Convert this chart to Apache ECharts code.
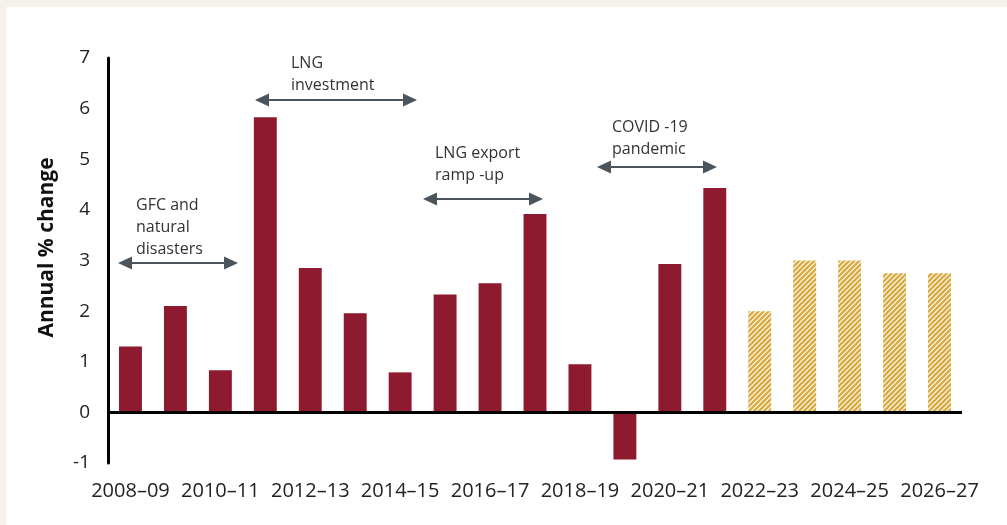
<!DOCTYPE html>
<html>
<head>
<meta charset="utf-8">
<script src="https://cdn.jsdelivr.net/npm/echarts@6/dist/echarts.min.js"></script>
<style>
  html, body { margin: 0; padding: 0; background: #f6f2eb; }
  #panel { position: absolute; left: 6px; top: 7px; width: 1001px; height: 518px; background: #fff; }
  #main { position: absolute; left: 0; top: 0; width: 1007px; height: 525px; }
</style>
</head>
<body>
<div id="panel"></div>
<div id="main"></div>
<script>
var years = ['2008–09', '2009–10', '2010–11', '2011–12', '2012–13', '2013–14', '2014–15',
  '2015–16', '2016–17', '2017–18', '2018–19', '2019–20', '2020–21', '2021–22',
  '2022–23', '2023–24', '2024–25', '2025–26', '2026–27'];
// actual growth (annual % change)
var actual = [1.3, 2.1, 0.83, 5.83, 2.85, 1.96, 0.79, 2.33, 2.55, 3.92, 0.95, -0.93, 2.93, 4.43,
  '-', '-', '-', '-', '-'];
// forecasts / projections
var forecast = ['-', '-', '-', '-', '-', '-', '-', '-', '-', '-', '-', '-', '-', '-',
  2.0, 3.0, 3.0, 2.75, 2.75];
var yTicks = [-1, 0, 1, 2, 3, 4, 5, 6, 7];

var FONT = '"Open Sans", "Noto Sans", sans-serif';
var MAROON = '#8d1a2e';
var GOLD = '#d9ac43';
var ARROW = '#4b535b';

// hatch pattern for the projection bars
function hatch() {
  var c = document.createElement('canvas');
  c.width = 5;
  c.height = 5;
  var ctx = c.getContext('2d');
  ctx.fillStyle = '#fff';
  ctx.fillRect(0, 0, 5, 5);
  ctx.strokeStyle = GOLD;
  ctx.lineWidth = 2.5;
  ctx.beginPath();
  ctx.moveTo(-1, 6); ctx.lineTo(6, -1);
  ctx.moveTo(-1, 1); ctx.lineTo(1, -1);
  ctx.moveTo(4, 6); ctx.lineTo(6, 4);
  ctx.stroke();
  return c;
}

// double headed arrow with a caption above it
function note(x1, x2, y, tx, ty, text) {
  return {
    type: 'group',
    children: [{
      type: 'line',
      shape: { x1: x1 + 10, y1: y, x2: x2 - 10, y2: y },
      style: { stroke: ARROW, lineWidth: 2 }
    }, {
      type: 'polygon',
      shape: { points: [[x1, y], [x1 + 14, y - 6.5], [x1 + 14, y + 6.5]] },
      style: { fill: ARROW }
    }, {
      type: 'polygon',
      shape: { points: [[x2, y], [x2 - 14, y - 6.5], [x2 - 14, y + 6.5]] },
      style: { fill: ARROW }
    }, {
      type: 'text',
      x: tx,
      y: ty,
      style: {
        text: text,
        font: '16px ' + FONT,
        fill: '#333',
        lineHeight: 22,
        verticalAlign: 'top'
      }
    }]
  };
}

var chart = echarts.init(document.getElementById('main'));
chart.setOption({
  backgroundColor: 'transparent',
  animation: false,
  grid: { left: 108, right: 45, top: 58, bottom: 62, containLabel: false },
  xAxis: {
    type: 'category',
    data: years,
    axisLine: { show: false, onZero: false },
    axisTick: { show: false },
    axisLabel: {
      interval: 1,
      color: '#222',
      fontSize: 20,
      fontFamily: FONT,
      margin: 18
    }
  },
  yAxis: {
    type: 'value',
    min: yTicks[0],
    max: yTicks[yTicks.length - 1],
    interval: 1,
    name: 'Annual % change',
    nameLocation: 'middle',
    nameGap: 50,
    nameTextStyle: {
      fontSize: 21, fontWeight: 'bold', color: '#111', fontFamily: FONT,
      padding: [0, 0, 0, 26]
    },
    axisLine: { show: true, lineStyle: { color: '#000', width: 3 } },
    axisTick: { show: false },
    splitLine: { show: false },
    axisLabel: { color: '#222', fontSize: 19, fontFamily: FONT, margin: 18 }
  },
  series: [{
    type: 'bar',
    data: actual,
    barCategoryGap: '49%',
    barGap: '-100%',
    itemStyle: { color: MAROON },
    markLine: {
      silent: true,
      symbol: 'none',
      label: { show: false },
      lineStyle: { color: '#000', width: 3, type: 'solid' },
      data: [{ yAxis: 0 }]
    }
  }, {
    type: 'bar',
    data: forecast,
    barCategoryGap: '49%',
    barGap: '-100%',
    itemStyle: { color: { image: hatch(), repeat: 'repeat' } }
  }],
  graphic: [
    note(118, 238, 263, 136, 194, 'GFC and\nnatural\ndisasters'),
    note(255, 417, 100, 291, 52, 'LNG\ninvestment'),
    note(423, 543, 199, 435, 142, 'LNG export\nramp -up'),
    note(597, 717, 167, 612, 116, 'COVID -19\npandemic')
  ]
});
</script>
</body>
</html>
